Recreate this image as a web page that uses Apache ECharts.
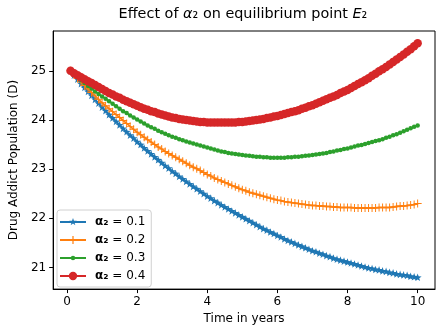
<!DOCTYPE html>
<html>
<head>
<meta charset="utf-8">
<script src="https://cdn.jsdelivr.net/npm/echarts@6/dist/echarts.min.js"></script>
<style>html,body{margin:0;padding:0;background:#fff;}#c{width:437px;height:330px;}</style>
</head>
<body>
<div id="c"></div>
<script>
const times = [
  0.1,0.2,0.3,0.4,0.5,0.6,0.7,0.8,0.9,1.0,
  1.1,1.2,1.3,1.4,1.5,1.6,1.7,1.8,1.9,2.0,
  2.1,2.2,2.3,2.4,2.5,2.6,2.7,2.8,2.9,3.0,
  3.1,3.2,3.3,3.4,3.5,3.6,3.7,3.8,3.9,4.0,
  4.1,4.2,4.3,4.4,4.5,4.6,4.7,4.8,4.9,5.0,
  5.1,5.2,5.3,5.4,5.5,5.6,5.7,5.8,5.9,6.0,
  6.1,6.2,6.3,6.4,6.5,6.6,6.7,6.8,6.9,7.0,
  7.1,7.2,7.3,7.4,7.5,7.6,7.7,7.8,7.9,8.0,
  8.1,8.2,8.3,8.4,8.5,8.6,8.7,8.8,8.9,9.0,
  9.1,9.2,9.3,9.4,9.5,9.6,9.7,9.8,9.9,10.0];
const alpha01 = [
  25.00,24.91,24.83,24.74,24.66,24.58,24.50,24.42,24.34,24.26,
  24.19,24.11,24.04,23.97,23.90,23.83,23.76,23.69,23.63,23.56,
  23.50,23.43,23.37,23.31,23.25,23.19,23.13,23.07,23.02,22.96,
  22.91,22.85,22.80,22.75,22.70,22.65,22.60,22.55,22.50,22.45,
  22.41,22.36,22.32,22.27,22.23,22.19,22.15,22.11,22.07,22.03,
  21.99,21.95,21.91,21.87,21.83,21.79,21.76,21.72,21.69,21.65,
  21.62,21.58,21.55,21.52,21.49,21.46,21.43,21.40,21.37,21.34,
  21.32,21.29,21.27,21.24,21.22,21.19,21.17,21.15,21.13,21.11,
  21.09,21.07,21.05,21.03,21.01,20.99,20.98,20.96,20.95,20.93,
  20.92,20.90,20.89,20.87,20.86,20.85,20.84,20.82,20.81,20.80];
const alpha02 = [
  25.00,24.92,24.85,24.77,24.70,24.63,24.56,24.49,24.42,24.35,
  24.29,24.23,24.17,24.11,24.05,23.99,23.93,23.87,23.81,23.75,
  23.70,23.65,23.60,23.55,23.50,23.45,23.41,23.36,23.32,23.28,
  23.24,23.20,23.16,23.12,23.08,23.04,23.01,22.97,22.93,22.89,
  22.86,22.82,22.79,22.76,22.73,22.70,22.67,22.64,22.61,22.58,
  22.56,22.53,22.51,22.49,22.47,22.45,22.43,22.41,22.39,22.37,
  22.36,22.34,22.33,22.32,22.31,22.30,22.29,22.28,22.27,22.26,
  22.26,22.25,22.25,22.24,22.24,22.23,22.23,22.22,22.22,22.22,
  22.22,22.21,22.21,22.21,22.21,22.21,22.21,22.21,22.22,22.22,
  22.22,22.22,22.23,22.24,22.25,22.25,22.26,22.27,22.28,22.30];
const alpha03 = [
  25.00,24.93,24.87,24.81,24.75,24.69,24.64,24.58,24.53,24.48,
  24.43,24.38,24.33,24.28,24.23,24.18,24.14,24.09,24.05,24.01,
  23.97,23.93,23.89,23.85,23.82,23.78,23.75,23.72,23.69,23.66,
  23.64,23.61,23.59,23.56,23.54,23.52,23.50,23.48,23.46,23.44,
  23.42,23.40,23.38,23.36,23.35,23.33,23.32,23.31,23.30,23.29,
  23.28,23.27,23.26,23.25,23.25,23.24,23.24,23.23,23.23,23.23,
  23.23,23.23,23.24,23.24,23.25,23.25,23.26,23.27,23.28,23.29,
  23.30,23.31,23.32,23.33,23.35,23.36,23.38,23.39,23.41,23.42,
  23.44,23.46,23.48,23.49,23.51,23.53,23.55,23.57,23.59,23.61,
  23.64,23.66,23.69,23.71,23.74,23.77,23.80,23.83,23.86,23.89];
const alpha04 = [
  25.00,24.95,24.91,24.87,24.83,24.79,24.75,24.71,24.67,24.63,
  24.59,24.55,24.52,24.48,24.45,24.41,24.38,24.35,24.32,24.29,
  24.26,24.23,24.21,24.18,24.16,24.13,24.11,24.09,24.07,24.05,
  24.04,24.02,24.01,24.00,23.99,23.98,23.97,23.96,23.96,23.95,
  23.95,23.95,23.95,23.95,23.95,23.95,23.95,23.95,23.96,23.96,
  23.97,23.98,23.99,24.00,24.01,24.02,24.04,24.05,24.07,24.08,
  24.10,24.12,24.14,24.16,24.18,24.20,24.23,24.25,24.28,24.30,
  24.33,24.36,24.39,24.42,24.45,24.48,24.51,24.55,24.58,24.61,
  24.65,24.69,24.73,24.77,24.81,24.85,24.90,24.94,24.99,25.03,
  25.08,25.13,25.18,25.23,25.28,25.33,25.39,25.44,25.50,25.56];
const seriesNames = ['α₂ = 0.1','α₂ = 0.2','α₂ = 0.3','α₂ = 0.4'];
const xTicks = [0,2,4,6,8,10];
const yTicks = [21,22,23,24,25];

const colors = ['#1f77b4','#ff7f0e','#2ca02c','#d62728'];
const STAR = 'path://M5 0L6.18 3.38L9.76 3.45L6.9 5.62L7.94 9.05L5 7L2.06 9.05L3.1 5.62L0.24 3.45L3.82 3.38Z';
const PLUS = 'path://M4.4 0L5.6 0L5.6 4.4L10 4.4L10 5.6L5.6 5.6L5.6 10L4.4 10L4.4 5.6L0 5.6L0 4.4L4.4 4.4Z';
const corners = 'M0 0L0.01 0L0.01 0.01Z M25.99 9.99L26 9.99L26 10Z ';
const lineRect = 'M0 4.1L26 4.1L26 5.9L0 5.9Z ';
const legendIcons = [
  'path://' + corners + lineRect + 'M13 1L13.94 3.7L16.81 3.76L14.52 5.5L15.35 8.24L13 6.6L10.65 8.24L11.48 5.5L9.19 3.76L12.06 3.7Z',
  'path://' + corners + lineRect + 'M12.4 1L13.6 1L13.6 4.4L17 4.4L17 5.6L13.6 5.6L13.6 9L12.4 9L12.4 5.6L9 5.6L9 4.4L12.4 4.4Z',
  'path://' + corners + lineRect + 'M10.75 5A2.25 2.25 0 1 1 15.25 5A2.25 2.25 0 1 1 10.75 5Z',
  'path://' + corners + lineRect + 'M8.8 5A4.2 4.2 0 1 1 17.2 5A4.2 4.2 0 1 1 8.8 5Z'
];
const symbols = [STAR, PLUS, 'circle', 'circle'];
const symbolSizes = [8, 8, 4.5, 8.5];
const values = [alpha01, alpha02, alpha03, alpha04];

const font = 'DejaVu Sans';
const chart = echarts.init(document.getElementById('c'), null, {renderer: 'canvas'});
chart.setOption({
  animation: false,
  backgroundColor: '#fff',
  title: {
    text: 'Effect of {i|α}₂ on equilibrium point {i|E}₂',
    left: 243, top: 7, textAlign: 'center', padding: 0,
    textStyle: {
      fontFamily: font, fontSize: 14.4, fontWeight: 'normal', color: '#000',
      rich: { i: {fontFamily: font, fontSize: 14.4, fontStyle: 'italic', color: '#000'} }
    }
  },
  grid: { left: 50, right: 2, top: 31, bottom: 37, show: true, borderColor: '#000', borderWidth: 1, backgroundColor: 'transparent' },
  xAxis: {
    type: 'value', min: -0.395, max: 10.495,
    name: 'Time in years', nameLocation: 'middle', nameGap: 23,
    nameTextStyle: {fontFamily: font, fontSize: 12, color: '#000'},
    axisLine: {show: true, onZero: false, lineStyle: {color: '#000', width: 1}},
    axisTick: {show: true, length: 4, customValues: xTicks, lineStyle: {color: '#000', width: 1}},
    axisLabel: {customValues: xTicks, margin: 7, fontFamily: font, fontSize: 12, color: '#000'},
    splitLine: {show: false}
  },
  yAxis: {
    type: 'value', min: 20.56, max: 25.81,
    name: 'Drug Addict Population (D)', nameLocation: 'middle', nameGap: 31, nameRotate: 90,
    nameTextStyle: {fontFamily: font, fontSize: 12, color: '#000'},
    axisLine: {show: true, onZero: false, lineStyle: {color: '#000', width: 1}},
    axisTick: {show: true, length: 4, customValues: yTicks, lineStyle: {color: '#000', width: 1}},
    axisLabel: {customValues: yTicks, margin: 7, fontFamily: font, fontSize: 12, color: '#000'},
    splitLine: {show: false}
  },
  legend: {
    orient: 'vertical', left: 57, top: 210,
    padding: [5, 6, 4, 3],
    itemWidth: 26, itemHeight: 10, itemGap: 4,
    backgroundColor: 'rgba(255,255,255,0.8)', borderColor: '#d0d0d0', borderWidth: 1, borderRadius: 3,
    itemStyle: {borderWidth: 0},
    data: seriesNames.map((n, i) => ({name: n, icon: legendIcons[i], itemStyle: {color: colors[i], borderWidth: 0}})),
    formatter: (name) => name.replace('α₂', '{b|α₂}'),
    textStyle: {
      fontFamily: font, fontSize: 12, color: '#000', lineHeight: 14, padding: [0, 0, 0, 4],
      rich: { b: {fontFamily: font, fontSize: 12, fontWeight: 'bold', color: '#000', lineHeight: 14} }
    }
  },
  series: values.map((vals, i) => ({
    name: seriesNames[i],
    type: 'line',
    data: times.map((t, k) => [t, vals[k]]),
    symbol: symbols[i],
    symbolSize: symbolSizes[i],
    symbolKeepAspect: true,
    showSymbol: true,
    showAllSymbol: true,
    color: colors[i],
    lineStyle: {color: colors[i], width: 1.8},
    itemStyle: {color: colors[i], borderWidth: 0},
    emphasis: {disabled: true},
    z: 2 + i
  }))
});
</script>
</body>
</html>
